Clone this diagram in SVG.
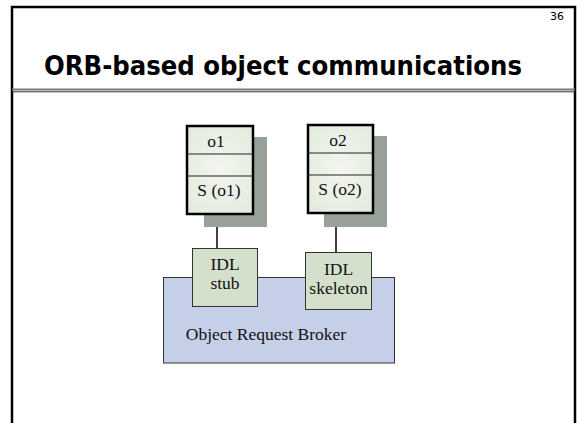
<svg xmlns="http://www.w3.org/2000/svg" width="577" height="423" viewBox="0 0 577 423">
<style>
.t{font-family:"Liberation Serif","Times New Roman",serif;font-size:17.5px;fill:#111;text-anchor:middle}
.obj{fill:url(#og);stroke:#000;stroke-width:2.5}
.div{stroke:#222;stroke-width:1.2}
.sh{fill:#98a198}
.idl{fill:#d5e0cc;stroke:#333;stroke-width:1}
.conn{stroke:#000;stroke-width:1.5;fill:none}
</style>
<defs>
<radialGradient id="og" cx="0.5" cy="0.5" r="0.7">
<stop offset="0" stop-color="#f3f6f0"/>
<stop offset="1" stop-color="#e2eadc"/>
</radialGradient>
</defs>
<rect width="577" height="423" fill="#fff"/>
<g id="frame">
<rect x="12" y="7" width="563" height="440" fill="none" stroke="#000" stroke-width="2.5"/>
<line x1="12" y1="89.5" x2="575" y2="89.5" stroke="#777" stroke-width="1.8"/>
<line x1="12" y1="91.8" x2="575" y2="91.8" stroke="#333" stroke-width="1"/>
<text x="564" y="20" font-family="DejaVu Sans,sans-serif" font-size="11" text-anchor="end">36</text>
<text x="44" y="75" font-family="DejaVu Sans,sans-serif" font-weight="bold" font-size="27" textLength="478" lengthAdjust="spacingAndGlyphs">ORB-based object communications</text>
</g>
<g id="orb">
<rect x="163.5" y="277.5" width="231" height="85.5" fill="#c5cfe7" stroke="#333" stroke-width="1"/>
<text class="t" x="266" y="340">Object Request Broker</text>
</g>
<g id="connectors">
<line class="conn" x1="217" y1="214" x2="217" y2="248"/>
<line class="conn" x1="336" y1="213" x2="336" y2="252"/>
</g>
<g id="o1">
<rect class="sh" x="204" y="137" width="63" height="90"/>
<rect class="obj" x="187" y="126" width="66" height="88"/>
<line class="div" x1="187" y1="154" x2="253" y2="154"/>
<line class="div" x1="187" y1="176" x2="253" y2="176"/>
<text class="t" x="216" y="147">o1</text>
<text class="t" x="219" y="196">S (o1)</text>
</g>
<g id="o2">
<rect class="sh" x="324" y="136" width="63" height="91"/>
<rect class="obj" x="308" y="125" width="65" height="88"/>
<line class="div" x1="308" y1="153" x2="373" y2="153"/>
<line class="div" x1="308" y1="175" x2="373" y2="175"/>
<text class="t" x="338" y="146">o2</text>
<text class="t" x="340" y="195">S (o2)</text>
</g>
<g id="stub">
<rect class="idl" x="192.5" y="248.5" width="65" height="58"/>
<text class="t" x="225" y="270">IDL</text>
<text class="t" x="225" y="289">stub</text>
</g>
<g id="skeleton">
<rect class="idl" x="305.5" y="252.5" width="66" height="57"/>
<text class="t" x="338.5" y="275">IDL</text>
<text class="t" x="338.5" y="294">skeleton</text>
</g>
</svg>
